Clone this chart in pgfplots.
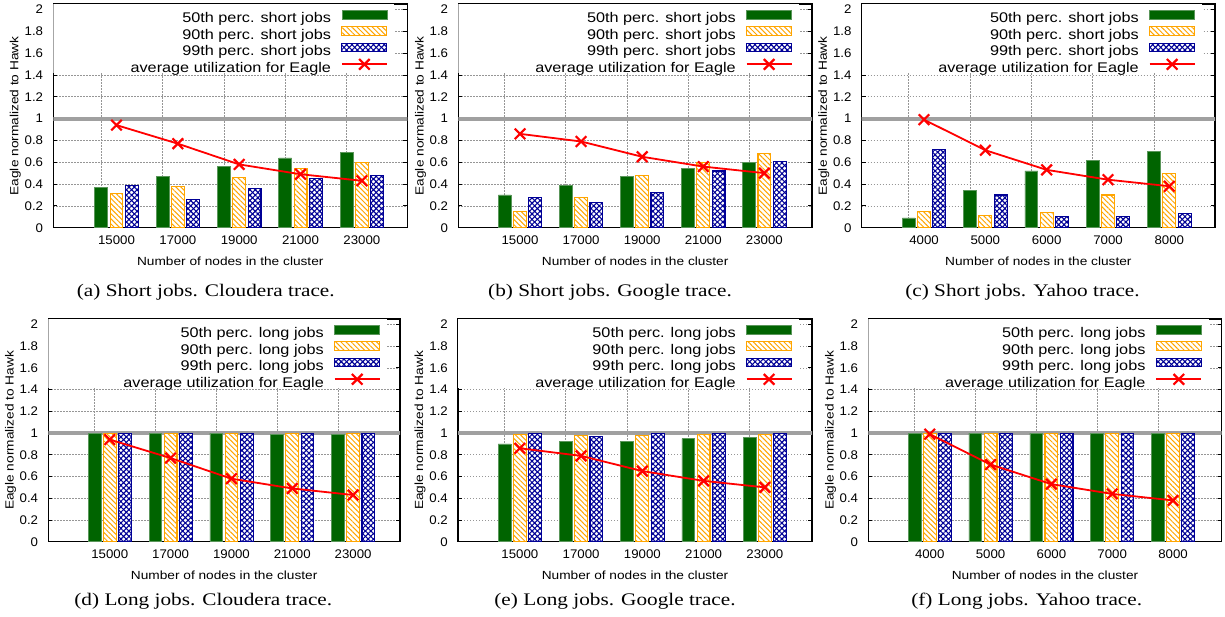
\documentclass[border=0pt]{standalone}
\usepackage{fontspec}
\setmainfont{Liberation Sans}[FakeStretch=1.16]
\newfontfamily\gp{Liberation Sans}[FakeStretch=1.16]
\newfontfamily\gptick{Liberation Sans}[FakeStretch=1.06]
\newfontfamily\capfont{Liberation Serif}[FakeStretch=1.2]
\usepackage{pgfplots}
\usepackage{pgfplotstable}
\pgfplotsset{compat=1.18}
\usetikzlibrary{patterns.meta}

\definecolor{gpgreen}{RGB}{0,100,0}
\definecolor{gpgreenedge}{RGB}{90,150,90}
\definecolor{gporange}{RGB}{255,165,0}
\definecolor{gpblue}{RGB}{0,0,150}
\definecolor{gpred}{RGB}{255,0,0}
\definecolor{gpgray}{RGB}{160,160,160}
\definecolor{gpgrid}{RGB}{150,150,150}

\pgfplotstableread{
x p50 p90 p99 util
0 0.37 0.31 0.39 0.94
1 0.47 0.38 0.26 0.77
2 0.56 0.46 0.36 0.58
3 0.64 0.54 0.45 0.49
4 0.69 0.60 0.48 0.43
}\tabA
\pgfplotstableread{
x p50 p90 p99 util
0 0.30 0.15 0.28 0.86
1 0.39 0.28 0.23 0.79
2 0.47 0.48 0.32 0.65
3 0.54 0.60 0.52 0.56
4 0.60 0.68 0.61 0.50
}\tabB
\pgfplotstableread{
x p50 p90 p99 util
0 0.09 0.15 0.72 0.99
1 0.34 0.11 0.30 0.71
2 0.52 0.14 0.10 0.53
3 0.62 0.30 0.10 0.44
4 0.70 0.50 0.13 0.38
}\tabC
\pgfplotstableread{
x p50 p90 p99 util
0 1.00 1.00 1.00 0.94
1 1.00 1.00 1.00 0.77
2 1.00 1.00 1.00 0.58
3 0.99 1.00 1.00 0.49
4 0.99 1.00 1.00 0.43
}\tabD
\pgfplotstableread{
x p50 p90 p99 util
0 0.90 0.99 1.00 0.86
1 0.92 0.98 0.97 0.79
2 0.92 0.98 1.00 0.65
3 0.95 0.99 1.00 0.56
4 0.96 0.99 1.00 0.50
}\tabE
\pgfplotstableread{
x p50 p90 p99 util
0 1.00 1.00 1.00 0.99
1 1.00 1.00 1.00 0.71
2 1.00 1.00 1.00 0.53
3 1.00 1.00 1.00 0.44
4 1.00 1.00 1.00 0.38
}\tabF

\pgfplotsset{
  layers/mylayers/.define layer set={
    axis background,axis grid,pre main,main,axis ticks,axis lines,axis tick labels,axis descriptions,axis foreground
  }{},
  gpaxis/.style={
    scale only axis,
    set layers=mylayers,
    ymin=0, ymax=2.05,
    ytick={0,0.2,0.4,0.6,0.8,1,1.2,1.4,1.6,1.8,2},
    xtick={0,1,2,3,4},
    xtick style={draw=none},
    extra x ticks={-0.25,0.75,1.75,2.75,3.75},
    extra x tick labels={},
    extra x tick style={grid=major, major tick length=0pt},
    ymajorgrids=true,
    grid style={gpgrid, line width=0.7pt, dash pattern=on 1.3pt off 1.7pt},
    tick align=inside,
    major tick length=4pt,
    ytick style={black, line width=0.8pt},
    axis line style={black, line width=1.2pt},
    tick label style={font=\gptick\fontsize{12.5}{14}\selectfont},
    /pgf/number format/assume math mode=true,
    yticklabel style={anchor=east, inner sep=0pt, xshift=-10pt},
    xticklabel style={anchor=north, inner sep=0pt, yshift=-7.5pt},
    xlabel={Number of nodes in the cluster},
    ylabel={Eagle normalized to Hawk},
    label style={font=\gp\fontsize{11.8}{14}\selectfont},
    xlabel style={at={(axis description cs:0.5,0)}, anchor=base, yshift=-38pt},
    ylabel style={at={(axis description cs:-0.107,0.5)}, anchor=center},
    legend cell align=right,
    legend plot pos=right,
    legend style={font=\gp\fontsize{14}{16}\selectfont, draw=none, fill=none,
      at={(axis description cs:0.9455,0.973)}, anchor=north east,
      inner sep=0pt, row sep=1.0pt, column sep=10pt,
      nodes={inner sep=0pt, text height=9.5pt, text depth=2.5pt}},
  },
  g50/.style={ybar, bar width=0.21, bar shift=-0.25, fill=gpgreen, draw=gpgreenedge, line width=0.6pt,
    legend image code/.code={\draw[##1] (0pt,0.3pt) rectangle (45pt,8.8pt);}},
  g90/.style={ybar, bar width=0.21, bar shift=0, fill=white, draw=gporange, line width=1.1pt,
    postaction={pattern={Lines[angle=-45,distance=3.6pt,line width=1pt]}, pattern color=gporange},
    legend image code/.code={\draw[##1] (0pt,0.3pt) rectangle (45pt,8.8pt);}},
  g99/.style={ybar, bar width=0.21, bar shift=0.25, fill=white, draw=gpblue, line width=1.1pt,
    postaction={pattern={Lines[angle=45,distance=3.8pt,line width=1.1pt]}, pattern color=gpblue},
    postaction={pattern={Lines[angle=-45,distance=3.8pt,line width=1.1pt]}, pattern color=gpblue},
    legend image code/.code={\draw[##1] (0pt,0.3pt) rectangle (45pt,8.8pt);}},
  gutil/.style={sharp plot, gpred, line width=1.8pt, mark=x, mark size=7.5pt,
    mark options={line width=2.2pt, solid},
    legend image code/.code={\draw[mark repeat=2, mark phase=2, ##1] plot coordinates {(0pt,4.3pt) (22.5pt,4.3pt) (45pt,4.3pt)};}},
}

% #1 table, #2 kind (short/long)
\newcommand\panelplots[2]{%
  \fill[white] (axis description cs:0,0.6916) rectangle (axis description cs:0.963,1);
  \addplot[forget plot, gpgray, line width=4pt] coordinates {(-2,1) (6,1)};
  \addplot[g50] table[x=x, y=p50] {#1};
  \addlegendentry{50th perc. #2 jobs}
  \addplot[g90] table[x=x, y=p90] {#1};
  \addlegendentry{90th perc. #2 jobs}
  \addplot[g99] table[x=x, y=p99] {#1};
  \addlegendentry{99th perc. #2 jobs}
  \addplot[gutil] table[x=x, y=util] {#1};
  \addlegendentry{average utilization for Eagle}
}

\begin{document}
\begin{tikzpicture}

\begin{axis}[gpaxis, at={(53.3pt,-227.7pt)}, anchor=south west, width=354pt, height=223.7pt,
  xmin=-1.03, xmax=4.74, xticklabels={15000,17000,19000,21000,23000}]
\panelplots{\tabA}{short}
\end{axis}

\begin{axis}[gpaxis, at={(458.3pt,-227.7pt)}, anchor=south west, width=353.7pt, height=223.7pt,
  xmin=-1.01, xmax=4.78, xticklabels={15000,17000,19000,21000,23000}]
\panelplots{\tabB}{short}
\end{axis}

\begin{axis}[gpaxis, at={(861.7pt,-227.7pt)}, anchor=south west, width=353.3pt, height=223.7pt,
  xmin=-1.016, xmax=4.745, xticklabels={4000,5000,6000,7000,8000}]
\panelplots{\tabC}{short}
\end{axis}

\begin{axis}[gpaxis, at={(48.3pt,-541.7pt)}, anchor=south west, width=351.7pt, height=222.7pt,
  xmin=-1.01, xmax=4.77, xticklabels={15000,17000,19000,21000,23000}]
\panelplots{\tabD}{long}
\end{axis}

\begin{axis}[gpaxis, at={(458pt,-541.7pt)}, anchor=south west, width=354pt, height=222.7pt,
  xmin=-1.01, xmax=4.77, xticklabels={15000,17000,19000,21000,23000}]
\panelplots{\tabE}{long}
\end{axis}

\begin{axis}[gpaxis, at={(868.3pt,-541.7pt)}, anchor=south west, width=353.4pt, height=222.7pt,
  xmin=-1.01, xmax=4.8, xticklabels={4000,5000,6000,7000,8000}]
\panelplots{\tabF}{long}
\end{axis}

\begin{scope}[every node/.style={font=\capfont\fontsize{17.7}{20}\selectfont, anchor=base, inner sep=0pt}]
\node at (205.8pt,-296.7pt) {(a) Short jobs. Cloudera trace.};
\node at (610pt,-296.7pt) {(b) Short jobs. Google trace.};
\node at (1022.5pt,-296.7pt) {(c) Short jobs. Yahoo trace.};
\node at (203.3pt,-605.7pt) {(d) Long jobs. Cloudera trace.};
\node at (615pt,-605.7pt) {(e) Long jobs. Google trace.};
\node at (1026.7pt,-605.7pt) {(f) Long jobs. Yahoo trace.};
\end{scope}
\pgfresetboundingbox
\path (0pt,0pt) rectangle (1225pt,-617pt);
\end{tikzpicture}
\end{document}
